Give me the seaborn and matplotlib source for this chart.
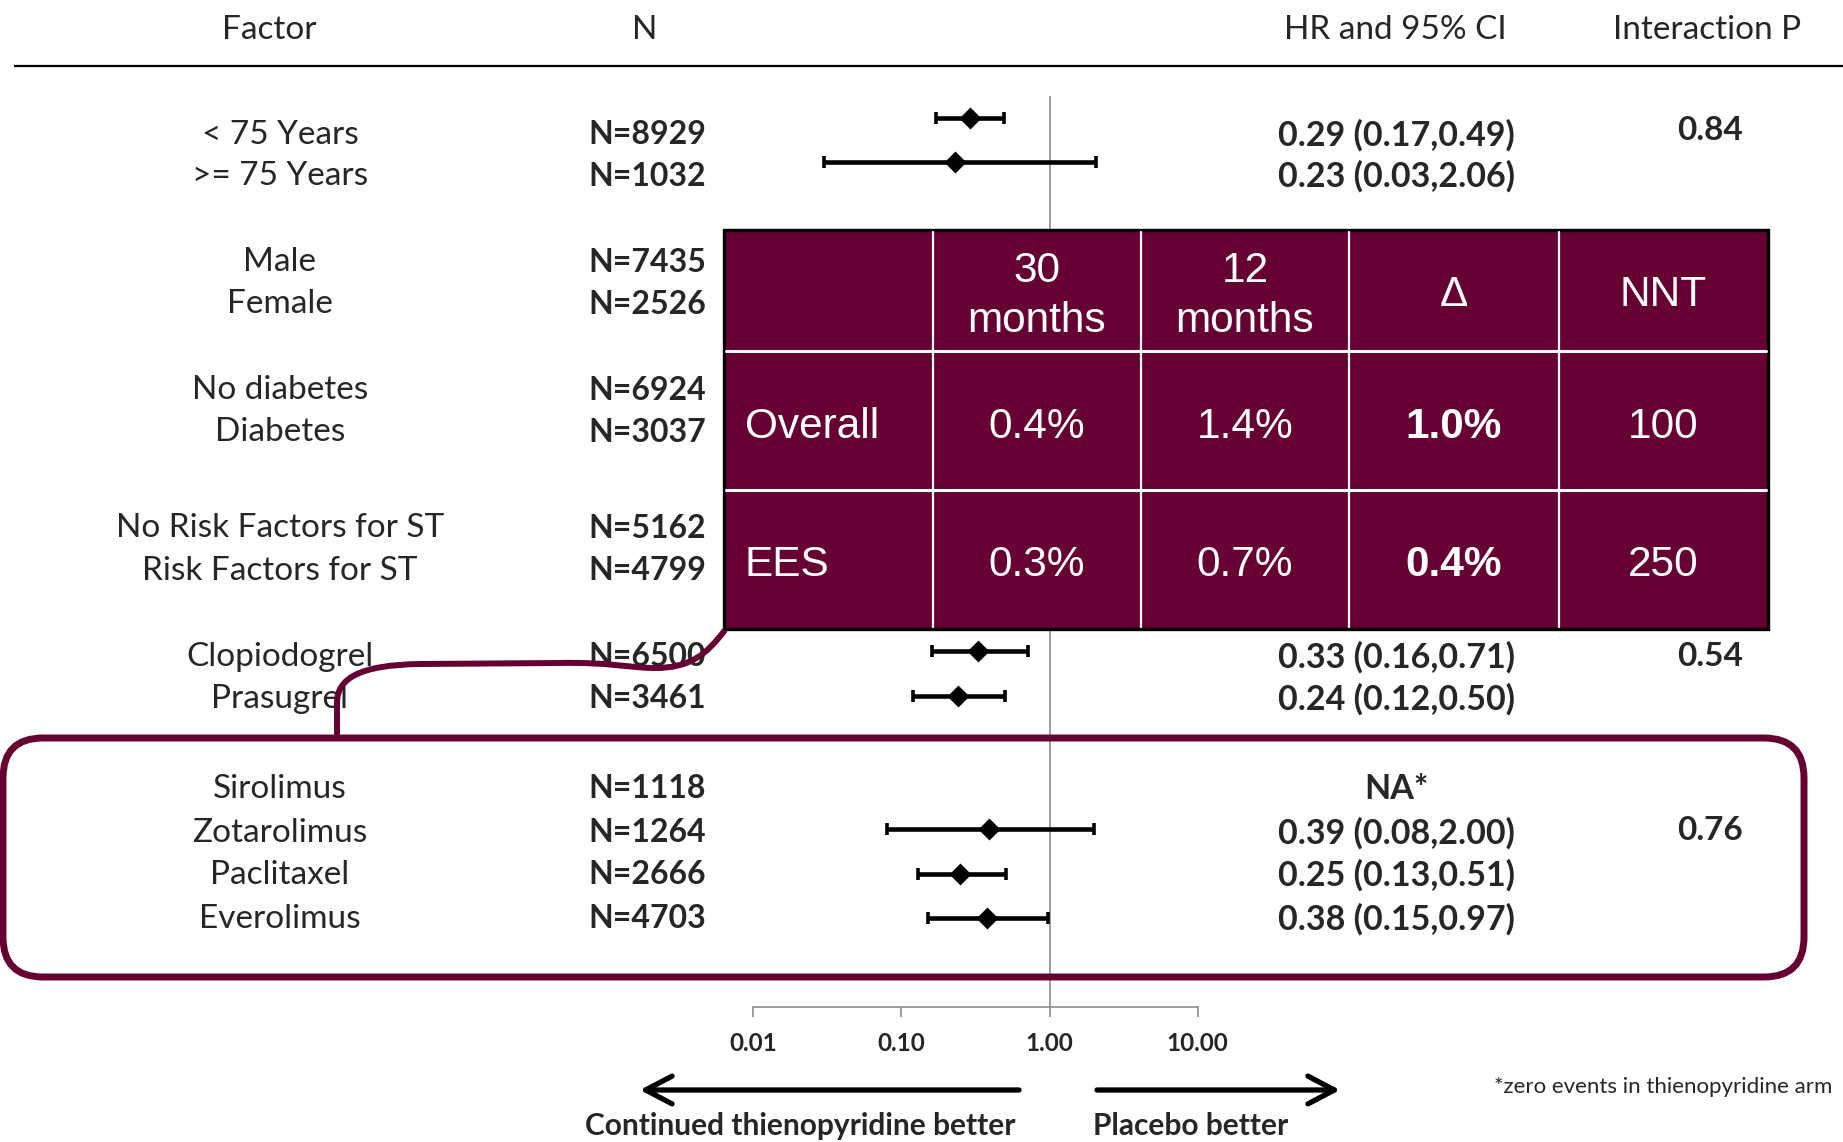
import numpy as np
import pandas as pd
import seaborn as sns
import matplotlib
matplotlib.use("Agg")
import matplotlib.pyplot as plt
from matplotlib.patches import Rectangle, FancyBboxPatch, PathPatch
from matplotlib.path import Path
from matplotlib.ticker import NullLocator

# ------------------------------------------------------------------ data
factors = ["< 75 Years", ">= 75 Years", "Male", "Female", "No diabetes", "Diabetes",
           "No Risk Factors for ST", "Risk Factors for ST", "Clopiodogrel", "Prasugrel",
           "Sirolimus", "Zotarolimus", "Paclitaxel", "Everolimus"]
n_patients = [8929, 1032, 7435, 2526, 6924, 3037, 5162, 4799, 6500, 3461,
              1118, 1264, 2666, 4703]
hr_point = [0.29, 0.23, None, None, None, None, None, None, 0.33, 0.24,
            None, 0.39, 0.25, 0.38]
hr_low = [0.17, 0.03, None, None, None, None, None, None, 0.16, 0.12,
          None, 0.08, 0.13, 0.15]
hr_high = [0.49, 2.06, None, None, None, None, None, None, 0.71, 0.50,
           None, 2.00, 0.51, 0.97]
hr_missing_note = {10: "NA*"}
interaction_p = {0: "0.84", 8: "0.54", 11: "0.76"}

axis_ticks = [0.01, 0.1, 1.0, 10.0]
axis_tick_labels = ["0.01", "0.10", "1.00", "10.00"]
headers = ["Factor", "N", "HR and 95% CI", "Interaction P"]

# stent-thrombosis rates table
table_cols = ["30\nmonths", "12\nmonths", "\u0394", "NNT"]
table_rows = ["Overall", "EES"]
rate_30m = ["0.4%", "0.3%"]
rate_12m = ["1.4%", "0.7%"]
rate_delta = ["1.0%", "0.4%"]
nnt = ["100", "250"]

footnote = "*zero events in thienopyridine arm"
left_label = "Continued thienopyridine better"
right_label = "Placebo better"

# ------------------------------------------------------------------ layout (pixels)
W, H = 1843, 1142
MAROON = "#660033"
row_y = [135, 176, 262, 304, 390, 432, 528, 571, 657, 699, 789, 833, 875, 919]
marker_y = [118, 162, 259, 301, 387, 429, 525, 568, 651, 696, 786, 829, 874, 918]
p_y = {0: 131, 8: 657, 11: 831}
x_factor, x_n, x_hr, x_p = 280, 588, 1396, 1710
axis_left, axis_right, axis_top, axis_bottom = 753.4, 1197.7, 96, 1007

sns.set_theme(style="white")
plt.rcParams["font.family"] = ["Lato", "DejaVu Sans"]

fig = plt.figure(figsize=(W / 100, H / 100), dpi=100)
fig.patch.set_facecolor("white")

# forest plot on a log axis
ax = fig.add_axes([axis_left / W, 1 - axis_bottom / H,
                   (axis_right - axis_left) / W, (axis_bottom - axis_top) / H], zorder=1)
ax.set_facecolor("none")
ax.set_xscale("log")
ax.set_xlim(0.01, 10)
ax.set_ylim(axis_bottom, axis_top)

df = pd.DataFrame({"factor": factors, "hr": hr_point, "lo": hr_low, "hi": hr_high,
                   "y": marker_y}).dropna()
ax.errorbar(df["hr"], df["y"], xerr=[df["hr"] - df["lo"], df["hi"] - df["hr"]],
            fmt="none", ecolor="black", elinewidth=3.3, capsize=4.2, capthick=2.6, zorder=3)
sns.scatterplot(data=df, x="hr", y="y", marker="D", s=125, color="black",
                edgecolor="black", linewidth=0, ax=ax, zorder=4, legend=False)
ax.axvline(1.0, color="#8c8c8c", lw=1.2, zorder=2)

for side in ["left", "top", "right"]:
    ax.spines[side].set_visible(False)
ax.spines["bottom"].set_color("#8c8c8c")
ax.spines["bottom"].set_linewidth(1.2)
ax.set_xticks(axis_ticks)
ax.set_xticklabels(axis_tick_labels, fontweight="bold", fontsize=17.5)
ax.xaxis.set_minor_locator(NullLocator())
ax.tick_params(axis="x", direction="out", length=7, width=1.2, color="#8c8c8c",
               pad=11, bottom=True)
ax.set_yticks([])
ax.set_xlabel("")
ax.set_ylabel("")

# annotation layer in pixel coordinates
ov = fig.add_axes([0, 0, 1, 1], zorder=2)
ov.set_xlim(0, W)
ov.set_ylim(H, 0)
ov.axis("off")
ov.patch.set_alpha(0)

for x, h in zip([269, 645, 1395, 1707], headers):
    ov.text(x, 30, h, ha="center", va="center", fontsize=24)
ov.plot([14, W], [66, 66], color="black", lw=1.6, solid_capstyle="butt")

for i, (f, n) in enumerate(zip(factors, n_patients)):
    ov.text(x_factor, row_y[i], f, ha="center", va="center", fontsize=24)
    ov.text(x_n, row_y[i], f"N={n}", ha="left", va="center", fontsize=23,
            fontweight="bold")
    if hr_point[i] is not None:
        ov.text(x_hr, row_y[i], f"{hr_point[i]:.2f} ({hr_low[i]:.2f},{hr_high[i]:.2f})",
                ha="center", va="center", fontsize=24.5, fontweight="bold")
    elif i in hr_missing_note:
        ov.text(x_hr, row_y[i], hr_missing_note[i], ha="center", va="center",
                fontsize=24.5, fontweight="bold")
for i, p in interaction_p.items():
    ov.text(x_p, p_y[i], p, ha="center", va="center", fontsize=24, fontweight="bold")

# rates table
col_edges = [724, 933, 1141, 1349, 1559, 1768]
row_edges = [230, 351, 490, 629]
ov.add_patch(Rectangle((col_edges[0], row_edges[0]), col_edges[-1] - col_edges[0],
                       row_edges[-1] - row_edges[0], facecolor=MAROON,
                       edgecolor="black", lw=2.4, zorder=5))
for cx in col_edges[1:-1]:
    ov.plot([cx, cx], [row_edges[0] + 2, row_edges[-1] - 2], color="white", lw=1.6, zorder=6)
for ry in row_edges[1:-1]:
    ov.plot([col_edges[0] + 2, col_edges[-1] - 2], [ry, ry], color="white", lw=2.2, zorder=6)

tfont = dict(color="white", fontsize=30.5, family=["Liberation Sans", "DejaVu Sans"],
             zorder=7, va="center")
col_centres = [(a + b) / 2 for a, b in zip(col_edges[1:-1], col_edges[2:])]
head_mid = (row_edges[0] + row_edges[1]) / 2
for cx, label in zip(col_centres, table_cols):
    lines = label.split("\n")
    if len(lines) == 2:
        ov.text(cx, head_mid - 20, lines[0], ha="center", **tfont)
        ov.text(cx, head_mid + 31, lines[1], ha="center", **tfont)
    else:
        ov.text(cx, head_mid + 5, lines[0], ha="center", **tfont)
for r, name in enumerate(table_rows):
    ry = (row_edges[r + 1] + row_edges[r + 2]) / 2 + 6
    ov.text(745, ry, name, ha="left", **tfont)
    cells = [rate_30m[r], rate_12m[r], rate_delta[r], nnt[r]]
    for c, (cx, val) in enumerate(zip(col_centres, cells)):
        ov.text(cx, ry, val, ha="center", fontweight="bold" if c == 2 else "normal", **tfont)

# connector from the table to the stent group
verts = [(725, 630), (706, 655), (690, 668), (655, 668),
         (630, 668), (610, 662), (560, 663),
         (420, 664),
         (360, 665), (337, 678), (337, 703),
         (337, 737)]
codes = [Path.MOVETO, Path.CURVE4, Path.CURVE4, Path.CURVE4,
         Path.CURVE4, Path.CURVE4, Path.CURVE4,
         Path.LINETO,
         Path.CURVE4, Path.CURVE4, Path.CURVE4,
         Path.LINETO]
ov.add_patch(PathPatch(Path(verts, codes), facecolor="none", edgecolor=MAROON,
                       lw=4.3, zorder=8))

# rounded frame around the stent-type rows
ov.add_patch(FancyBboxPatch((3, 738), 1801, 239,
                            boxstyle="round,pad=0,rounding_size=40",
                            facecolor="none", edgecolor=MAROON, lw=5, zorder=8))

# direction arrows
arrow_style = dict(arrowstyle="->,head_length=0.95,head_width=0.5", lw=3.8,
                   color="black", shrinkA=0, shrinkB=0, mutation_scale=20)
ov.annotate("", xy=(640, 1090), xytext=(1019, 1090), arrowprops=arrow_style)
ov.annotate("", xy=(1340, 1090), xytext=(1097, 1090), arrowprops=arrow_style)
ov.text(800, 1126, left_label, ha="center", va="center", fontsize=21.5, fontweight="bold")
ov.text(1191, 1126, right_label, ha="center", va="center", fontsize=21.5, fontweight="bold")
ov.text(1832, 1087, footnote, ha="right", va="center", fontsize=16)

fig.savefig("out.png", dpi=100, facecolor="white")
